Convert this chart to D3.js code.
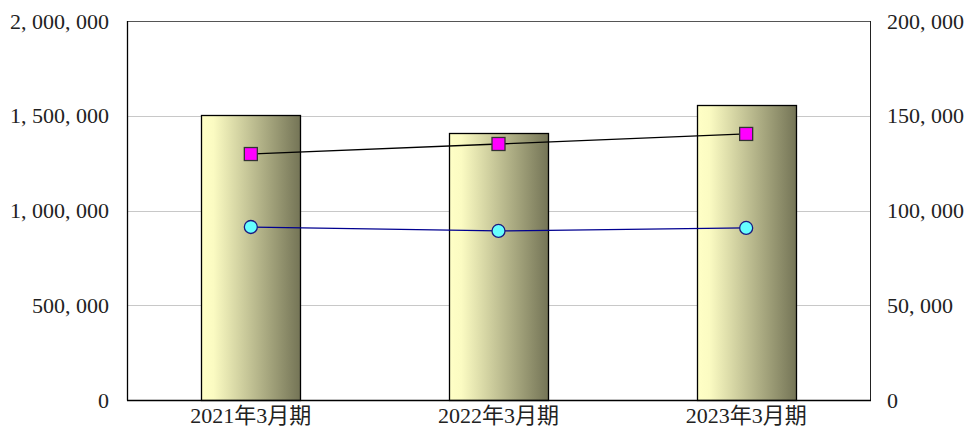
<!DOCTYPE html>
<html>
<head>
<meta charset="utf-8">
<script src="https://cdn.jsdelivr.net/npm/d3@7"></script>
<style>
  body { margin: 0; background: #fff; }
  text { font-family: "Liberation Serif", "Noto Sans CJK JP", serif; }
</style>
</head>
<body>
<svg id="chart"></svg>
<script>
const categories = ["2021年3月期", "2022年3月期", "2023年3月期"];
const barValues = [1505000, 1410000, 1557000];
const squareValues = [129800, 135100, 140400];
const circleValues = [91300, 89200, 90800];
const leftTicks = [0, 500000, 1000000, 1500000, 2000000];
const rightTicks = [0, 50000, 100000, 150000, 200000];

const width = 966, height = 429;
const margin = {top: 21, right: 96, bottom: 29, left: 127};

const svg = d3.select("#chart")
    .attr("width", width)
    .attr("height", height);

const defs = svg.append("defs");
const grad = defs.append("linearGradient")
    .attr("id", "barGrad")
    .attr("x1", "0%").attr("x2", "100%")
    .attr("y1", "0%").attr("y2", "0%");
grad.append("stop").attr("offset", "0%").attr("stop-color", "#ffffc6");
grad.append("stop").attr("offset", "12%").attr("stop-color", "#fbfbc2");
grad.append("stop").attr("offset", "100%").attr("stop-color", "#747456");

const x = d3.scaleBand()
    .domain(categories)
    .range([margin.left, width - margin.right])
    .paddingInner(0.6)
    .paddingOuter(0.3);

const yLeft = d3.scaleLinear()
    .domain([0, 2000000])
    .range([height - margin.bottom, margin.top]);

const yRight = d3.scaleLinear()
    .domain([0, 200000])
    .range([height - margin.bottom, margin.top]);

const fmt = (d) => d3.format(",")(d).replace(/,/g, ", ");

// grid
svg.append("g")
    .selectAll("line")
    .data(leftTicks.slice(1, -1))
    .join("line")
    .attr("x1", margin.left)
    .attr("x2", width - margin.right)
    .attr("y1", (d) => Math.round(yLeft(d)) + 0.5)
    .attr("y2", (d) => Math.round(yLeft(d)) + 0.5)
    .attr("stroke", "#c8c8c8")
    .attr("stroke-width", 1);

// bars
svg.append("g")
    .selectAll("rect")
    .data(barValues)
    .join("rect")
    .attr("x", (d, i) => Math.round(x(categories[i])) + 0.5)
    .attr("y", (d) => Math.round(yLeft(d)) + 0.5)
    .attr("width", Math.round(x.bandwidth()))
    .attr("height", (d) => yLeft(0) - Math.round(yLeft(d)))
    .attr("fill", "url(#barGrad)")
    .attr("stroke", "#000")
    .attr("stroke-width", 1.3);

// frame
const plotBottom = height - margin.bottom;
svg.append("line")
    .attr("x1", margin.left).attr("x2", width - margin.right)
    .attr("y1", margin.top + 0.5).attr("y2", margin.top + 0.5)
    .attr("stroke", "#555");
svg.append("line")
    .attr("x1", width - margin.right + 0.5).attr("x2", width - margin.right + 0.5)
    .attr("y1", margin.top).attr("y2", plotBottom)
    .attr("stroke", "#222");
svg.append("line")
    .attr("x1", margin.left + 0.5).attr("x2", margin.left + 0.5)
    .attr("y1", margin.top).attr("y2", plotBottom + 0.5)
    .attr("stroke", "#000").attr("stroke-width", 1.3);
svg.append("line")
    .attr("x1", margin.left).attr("x2", width - margin.right + 1)
    .attr("y1", plotBottom + 0.5).attr("y2", plotBottom + 0.5)
    .attr("stroke", "#000").attr("stroke-width", 1.3);

const cx = (i) => x(categories[i]) + x.bandwidth() / 2;

// lines
const squareLine = d3.line().x((d, i) => cx(i)).y((d) => yRight(d));
svg.append("path")
    .attr("d", squareLine(squareValues))
    .attr("fill", "none")
    .attr("stroke", "#000")
    .attr("stroke-width", 1.3);

const circleLine = d3.line().x((d, i) => cx(i)).y((d) => yRight(d));
svg.append("path")
    .attr("d", circleLine(circleValues))
    .attr("fill", "none")
    .attr("stroke", "#000090")
    .attr("stroke-width", 1.3);

// markers
svg.append("g")
    .selectAll("rect")
    .data(squareValues)
    .join("rect")
    .attr("x", (d, i) => cx(i) - 6.5)
    .attr("y", (d) => yRight(d) - 6.5)
    .attr("width", 13)
    .attr("height", 13)
    .attr("fill", "#ff00ff")
    .attr("stroke", "#333")
    .attr("stroke-width", 1.3);

svg.append("g")
    .selectAll("circle")
    .data(circleValues)
    .join("circle")
    .attr("cx", (d, i) => cx(i))
    .attr("cy", (d) => yRight(d))
    .attr("r", 6.5)
    .attr("fill", "#66ffff")
    .attr("stroke", "#1a1a80")
    .attr("stroke-width", 1.3);

// axes labels
svg.append("g")
    .selectAll("text")
    .data(leftTicks)
    .join("text")
    .attr("x", 109)
    .attr("y", (d) => yLeft(d) + 7.5)
    .attr("text-anchor", "end")
    .attr("font-size", 22)
    .attr("fill", "#222")
    .text(fmt);

svg.append("g")
    .selectAll("text")
    .data(rightTicks)
    .join("text")
    .attr("x", 887)
    .attr("y", (d) => yRight(d) + 7.5)
    .attr("text-anchor", "start")
    .attr("font-size", 22)
    .attr("fill", "#222")
    .text(fmt);

svg.append("g")
    .selectAll("text")
    .data(categories)
    .join("text")
    .attr("x", (d, i) => cx(i))
    .attr("y", 423)
    .attr("text-anchor", "middle")
    .attr("font-size", 22)
    .attr("fill", "#222")
    .text((d) => d);
</script>
</body>
</html>
